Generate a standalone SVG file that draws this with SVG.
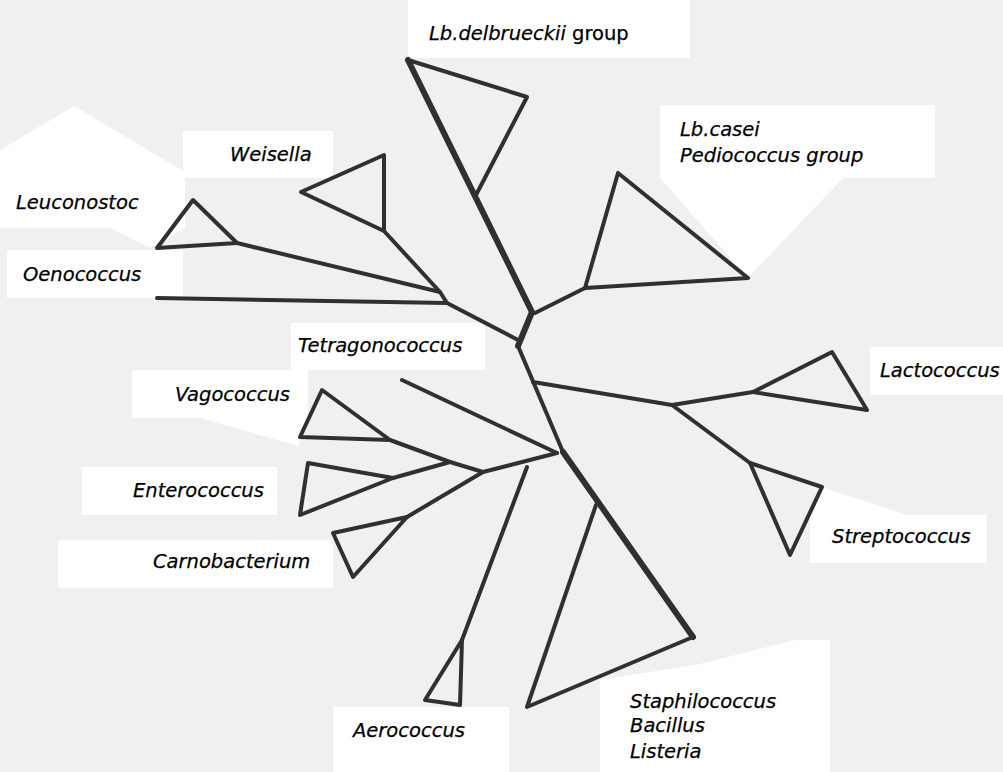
<svg xmlns="http://www.w3.org/2000/svg" width="1003" height="772" viewBox="0 0 1003 772">
<defs>
<style>
.bg{fill:#f0f0f0}
.wh{fill:#ffffff}
.ln{fill:none;stroke:#303030;stroke-width:4;stroke-linejoin:round;stroke-linecap:round}
.tk{stroke-width:6}
.t{font-family:"DejaVu Sans",Verdana,sans-serif;font-size:19.5px;font-style:italic;fill:#000;stroke:#000;stroke-width:0.25}
.n{font-style:normal}
</style>
</defs>
<rect class="bg" x="0" y="0" width="1003" height="772"/>
<g id="label-backgrounds">
<rect class="wh" x="408" y="0" width="282" height="58"/>
<rect class="wh" x="660" y="105" width="275" height="73"/>
<polygon class="wh" points="660,178 843,178 748,278"/>
<rect class="wh" x="183" y="131" width="150" height="47"/>
<polygon class="wh" points="0,150 74,106 185,172 185,228 150,248 110,228 0,228"/>
<rect class="wh" x="7" y="250" width="176" height="48"/>
<rect class="wh" x="291" y="323" width="194" height="47"/>
<rect class="wh" x="132" y="370" width="176" height="48"/>
<polygon class="wh" points="200,418 308,418 298,446"/>
<rect class="wh" x="82" y="467" width="195" height="48"/>
<rect class="wh" x="58" y="540" width="275" height="48"/>
<rect class="wh" x="333" y="707" width="176" height="65"/>
<polygon class="wh" points="600,680 700,664 795,640 830,640 830,772 600,772"/>
<rect class="wh" x="870" y="347" width="133" height="48"/>
<rect class="wh" x="810" y="515" width="177" height="48"/>
<polygon class="wh" points="822,487 907,515 810,515"/>
</g>
<g id="connectors">
<polyline class="ln tk" points="408,60 532,312 518,346"/>
<polyline class="ln" points="518,346 563,452"/>
<polyline class="ln tk" points="563,452 693,637"/>
<polyline class="ln" points="535,313 585,288"/>
<polyline class="ln" points="237,243 440,292"/>
<polyline class="ln" points="384,231 440,292 447,303 518,340"/>
<polyline class="ln" points="157,298 447,303"/>
<polyline class="ln" points="533,382 672,405"/>
<polyline class="ln" points="672,405 753,392"/>
<polyline class="ln" points="672,405 750,463"/>
<polyline class="ln" points="402,380 557,453"/>
<polyline class="ln" points="390,440 450,462"/>
<polyline class="ln" points="393,478 450,462 483,472 557,453"/>
<polyline class="ln" points="407,517 483,472"/>
<polyline class="ln" points="527,467 462,640"/>
</g>
<g id="node-lb-delbrueckii">
<polyline class="ln" points="408,60 527,97 476,195"/>
<text class="t" x="429" y="40">Lb.delbrueckii<tspan class="n"> group</tspan></text>
</g>
<g id="node-lb-casei">
<polygon class="ln" points="585,288 618,173 748,278"/>
<text class="t" x="680" y="136">Lb.casei</text>
<text class="t" x="680" y="162">Pediococcus group</text>
</g>
<g id="node-weisella">
<polygon class="ln" points="301,192 384,155 384,231"/>
<text class="t" x="230" y="161">Weisella</text>
</g>
<g id="node-leuconostoc">
<polygon class="ln" points="157,248 193,200 237,243"/>
<text class="t" x="16" y="209">Leuconostoc</text>
</g>
<g id="node-oenococcus">
<text class="t" x="23" y="281">Oenococcus</text>
</g>
<g id="node-tetragonococcus">
<text class="t" x="298" y="352">Tetragonococcus</text>
</g>
<g id="node-lactococcus">
<polygon class="ln" points="753,392 832,352 867,410"/>
<text class="t" x="880" y="377">Lactococcus</text>
</g>
<g id="node-streptococcus">
<polygon class="ln" points="750,463 822,487 790,555"/>
<text class="t" x="832" y="543">Streptococcus</text>
</g>
<g id="node-vagococcus">
<polygon class="ln" points="322,390 300,437 390,440"/>
<text class="t" x="175" y="401">Vagococcus</text>
</g>
<g id="node-enterococcus">
<polygon class="ln" points="308,463 300,515 393,478"/>
<text class="t" x="133" y="497">Enterococcus</text>
</g>
<g id="node-carnobacterium">
<polygon class="ln" points="333,533 353,577 407,517"/>
<text class="t" x="153" y="568">Carnobacterium</text>
</g>
<g id="node-aerococcus">
<polygon class="ln" points="462,640 425,700 460,705"/>
<text class="t" x="353" y="737">Aerococcus</text>
</g>
<g id="node-staphilococcus">
<polyline class="ln" points="693,637 527,707 596,505"/>
<text class="t" x="630" y="708">Staphilococcus</text>
<text class="t" x="630" y="732">Bacillus</text>
<text class="t" x="630" y="758">Listeria</text>
</g>
</svg>
